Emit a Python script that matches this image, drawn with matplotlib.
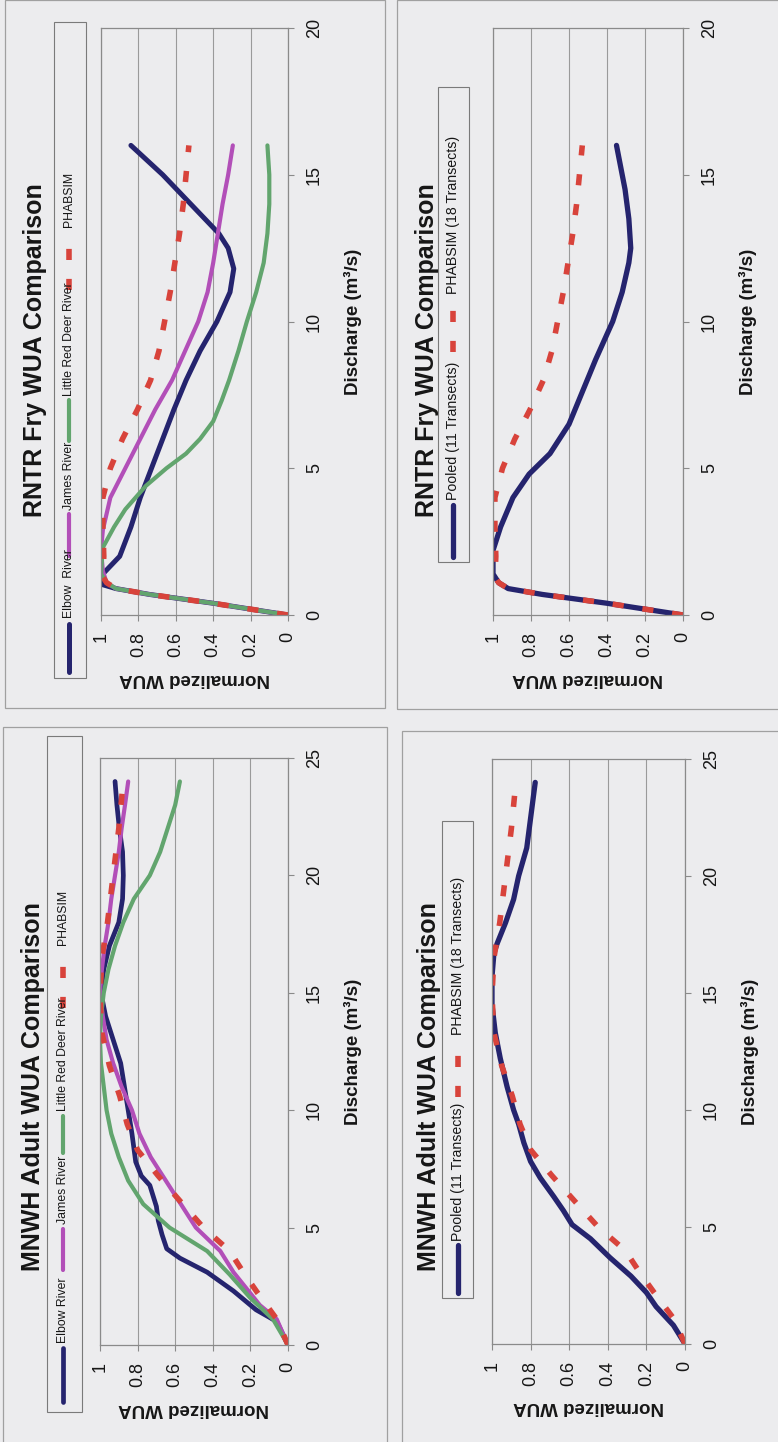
import matplotlib
matplotlib.use("Agg")
import matplotlib.pyplot as plt
from matplotlib.lines import Line2D
from matplotlib.patches import Rectangle

# ------------------------------------------------------------------ data
wua_ticks = [0, 0.2, 0.4, 0.6, 0.8, 1.0]
wua_ticklabels = ["0", "0.2", "0.4", "0.6", "0.8", "1"]
fry_q_ticks = [0, 5, 10, 15, 20]
adult_q_ticks = [0, 5, 10, 15, 20, 25]

fry_title = "RNTR Fry WUA Comparison"
adult_title = "MNWH Adult WUA Comparison"
x_label = "Discharge (m³/s)"
y_label = "Normalized WUA"

# RNTR fry
fry_elbow_q = [0, 0.4, 0.7, 0.9, 1.05, 1.4, 2.0, 3.0, 4.0, 5.0, 6.0, 7.0, 8.0, 9.0, 10.0, 11.0, 11.8, 12.5, 13.0, 14.0, 15.0, 16.0]
fry_elbow_w = [0, 0.40, 0.74, 0.92, 1.0, 0.99, 0.90, 0.84, 0.79, 0.73, 0.67, 0.61, 0.545, 0.47, 0.38, 0.31, 0.29, 0.32, 0.37, 0.52, 0.67, 0.84]
fry_james_q = [0, 0.4, 0.7, 0.9, 1.1, 1.5, 2.2, 2.9, 4.0, 5.0, 6.0, 7.0, 8.0, 9.0, 10.0, 11.0, 12.0, 13.0, 14.0, 15.0, 16.0]
fry_james_w = [0, 0.40, 0.74, 0.92, 0.97, 0.99, 1.0, 0.99, 0.95, 0.87, 0.79, 0.71, 0.62, 0.55, 0.48, 0.43, 0.40, 0.375, 0.35, 0.32, 0.295]
fry_lrd_q = [0, 0.4, 0.7, 0.9, 1.1, 1.4, 2.3, 3.0, 3.6, 4.4, 5.0, 5.5, 6.0, 6.6, 7.3, 8.0, 9.0, 10.0, 11.0, 12.0, 13.0, 14.0, 15.0, 16.0]
fry_lrd_w = [0, 0.40, 0.74, 0.92, 0.97, 1.0, 0.99, 0.93, 0.87, 0.76, 0.65, 0.545, 0.47, 0.40, 0.355, 0.315, 0.265, 0.22, 0.17, 0.13, 0.11, 0.10, 0.10, 0.11]
fry_phab_q = [0, 0.4, 0.7, 0.9, 1.1, 1.3, 2.0, 3.0, 4.0, 5.0, 6.0, 7.0, 8.0, 9.0, 10.0, 11.0, 12.0, 13.0, 14.0, 15.0, 16.0]
fry_phab_w = [0, 0.40, 0.74, 0.92, 0.97, 0.99, 0.985, 0.99, 0.99, 0.95, 0.885, 0.805, 0.735, 0.69, 0.66, 0.63, 0.605, 0.58, 0.56, 0.545, 0.53]
fry_pooled_q = [0, 0.4, 0.7, 0.9, 1.1, 1.4, 2.2, 3.0, 4.0, 4.8, 5.5, 6.5, 7.6, 8.7, 10.0, 11.0, 12.0, 12.5, 13.5, 14.5, 16.0]
fry_pooled_w = [0, 0.40, 0.74, 0.92, 0.97, 1.0, 1.0, 0.96, 0.895, 0.81, 0.70, 0.60, 0.53, 0.46, 0.37, 0.32, 0.285, 0.275, 0.285, 0.305, 0.35]

# MNWH adult
adult_elbow_q = [0, 1.0, 1.5, 2.3, 3.1, 3.7, 4.1, 4.7, 5.3, 5.9, 6.8, 7.2, 7.8, 9.0, 10.0, 11.0, 12.0, 13.0, 14.0, 15.0, 16.0, 17.0, 18.0, 19.0, 20.0, 21.0, 22.0, 23.0, 24.0]
adult_elbow_w = [0, 0.06, 0.17, 0.29, 0.43, 0.575, 0.645, 0.67, 0.69, 0.70, 0.735, 0.78, 0.81, 0.83, 0.85, 0.87, 0.89, 0.93, 0.97, 0.995, 0.98, 0.95, 0.90, 0.88, 0.876, 0.88, 0.897, 0.91, 0.92]
adult_james_q = [0, 1.1, 1.7, 3.1, 4.0, 5.0, 6.0, 7.0, 8.0, 9.0, 10.0, 11.0, 12.0, 13.0, 14.0, 15.0, 16.0, 17.0, 18.0, 19.0, 20.0, 21.0, 22.0, 23.0, 24.0]
adult_james_w = [0, 0.06, 0.15, 0.29, 0.36, 0.49, 0.57, 0.65, 0.73, 0.79, 0.83, 0.885, 0.93, 0.965, 0.985, 1.0, 0.99, 0.975, 0.955, 0.94, 0.92, 0.90, 0.885, 0.867, 0.85]
adult_lrd_q = [0, 1.1, 2.0, 3.0, 4.0, 5.0, 6.0, 7.0, 8.0, 9.0, 10.0, 11.0, 12.0, 13.0, 14.0, 15.0, 16.0, 17.0, 18.0, 19.0, 20.0, 21.0, 22.0, 23.0, 24.0]
adult_lrd_w = [0, 0.08, 0.20, 0.31, 0.43, 0.63, 0.77, 0.85, 0.90, 0.94, 0.965, 0.98, 0.995, 1.0, 0.995, 0.98, 0.955, 0.92, 0.876, 0.82, 0.735, 0.68, 0.64, 0.60, 0.575]
adult_phab_q = [0, 1.1, 2.2, 3.0, 4.0, 5.0, 6.0, 7.2, 8.3, 9.4, 10.6, 11.9, 13.3, 14.9, 16.5, 18.0, 20.0, 22.0, 23.7]
adult_phab_w = [0, 0.06, 0.16, 0.23, 0.31, 0.45, 0.56, 0.69, 0.80, 0.855, 0.895, 0.95, 0.99, 1.0, 0.99, 0.96, 0.93, 0.90, 0.88]
adult_pooled_q = [0, 0.8, 1.6, 2.2, 2.9, 3.7, 4.5, 5.1, 5.7, 6.3, 7.1, 7.8, 8.6, 9.4, 10.0, 11.0, 12.2, 13.3, 14.5, 15.7, 16.7, 17.1, 18.0, 19.0, 20.0, 21.2, 24.0]
adult_pooled_w = [0, 0.06, 0.15, 0.20, 0.28, 0.39, 0.49, 0.585, 0.63, 0.68, 0.75, 0.80, 0.835, 0.862, 0.888, 0.922, 0.957, 0.983, 1.0, 1.0, 0.99, 0.974, 0.93, 0.888, 0.862, 0.82, 0.776]

# ------------------------------------------------------------------ styles
NAVY = "#25246e"
MAGENTA = "#b24fb8"
GREEN = "#62a56e"
RED = "#d8433b"
BG = "#ececee"
GRID = "#9a9a9a"
FRAME = "#8a8a8a"
EDGE = "#a0a0a0"
TXT = "#161616"

FONT = ["Liberation Sans", "DejaVu Sans"]

W_PX, H_PX = 778, 1442
fig = plt.figure(figsize=(W_PX / 100, H_PX / 100), dpi=100, facecolor=BG)


def fx(x):
    return x / W_PX


def fy(y):
    return 1 - y / H_PX


solid = dict(linestyle="-", solid_capstyle="round", solid_joinstyle="round")
dashed = dict(linestyle=(0, (2.0, 3.4)), dash_capstyle="butt", lw=4.0, color=RED)

fry_multi = [
    ("Elbow  River", fry_elbow_q, fry_elbow_w, dict(color=NAVY, lw=3.6, **solid)),
    ("James River", fry_james_q, fry_james_w, dict(color=MAGENTA, lw=3.0, **solid)),
    ("Little Red Deer River", fry_lrd_q, fry_lrd_w, dict(color=GREEN, lw=3.0, **solid)),
    ("PHABSIM", fry_phab_q, fry_phab_w, dashed),
]
fry_pool = [
    ("Pooled (11 Transects)", fry_pooled_q, fry_pooled_w, dict(color=NAVY, lw=3.8, **solid)),
    ("PHABSIM (18 Transects)", fry_phab_q, fry_phab_w, dashed),
]
adult_multi = [
    ("Elbow River", adult_elbow_q, adult_elbow_w, dict(color=NAVY, lw=3.4, **solid)),
    ("James River", adult_james_q, adult_james_w, dict(color=MAGENTA, lw=3.0, **solid)),
    ("Little Red Deer River", adult_lrd_q, adult_lrd_w, dict(color=GREEN, lw=3.0, **solid)),
    ("PHABSIM", adult_phab_q, adult_phab_w, dashed),
]
adult_pool = [
    ("Pooled (11 Transects)", adult_pooled_q, adult_pooled_w, dict(color=NAVY, lw=3.8, **solid)),
    ("PHABSIM (18 Transects)", adult_phab_q, adult_phab_w, dashed),
]

panels = [
    dict(series=fry_multi, title=fry_title, qticks=fry_q_ticks,
         ax=(101, 28, 288, 615), title_xy=(35, 350), edge=(5, 0, 385, 708),
         leg_box=(54, 22, 86, 678), leg_x=69, leg_fs=8.8,
         leg=[(672, 624, 618), (556, 514, 510), (441, 400, 396), (290, 232, 227)]),
    dict(series=fry_pool, title=fry_title, qticks=fry_q_ticks,
         ax=(493, 28, 683, 615), title_xy=(427, 350), edge=(397, 0, 790, 709),
         leg_box=(438, 87, 469, 562), leg_x=453, leg_fs=10.2,
         leg=[(557, 505, 500), (352, 298, 294)]),
    dict(series=adult_multi, title=adult_title, qticks=adult_q_ticks,
         ax=(100, 758, 288, 1345), title_xy=(33, 1087), edge=(3, 727, 387, 1460),
         leg_box=(47, 736, 82, 1412), leg_x=63, leg_fs=8.8,
         leg=[(1402, 1348, 1343), (1270, 1229, 1224), (1153, 1116, 1111), (1008, 950, 945)]),
    dict(series=adult_pool, title=adult_title, qticks=adult_q_ticks,
         ax=(492, 759, 685, 1344), title_xy=(429, 1087), edge=(402, 731, 790, 1460),
         leg_box=(442, 821, 473, 1298), leg_x=458, leg_fs=10.2,
         leg=[(1293, 1245, 1241), (1097, 1038, 1035)]),
]

for p in panels:
    # outer panel frame
    ex0, ey0, ex1, ey1 = p["edge"]
    fig.add_artist(Rectangle((fx(ex0), fy(ey1)), fx(ex1 - ex0), (ey1 - ey0) / H_PX,
                             transform=fig.transFigure, fill=False, ec=EDGE, lw=0.9))

    l, t, r, b = p["ax"]
    ax = fig.add_axes([fx(l), fy(b), fx(r - l), (b - t) / H_PX])
    ax.set_facecolor(BG)
    qmax = p["qticks"][-1]
    for name, q, w, st in p["series"]:
        ax.plot(w, q, label=name, **st)
    ax.set_xlim(1, 0)
    ax.set_ylim(0, qmax)
    ax.set_xticks(wua_ticks)
    ax.set_xticklabels(wua_ticklabels)
    ax.set_yticks(p["qticks"])
    ax.yaxis.tick_right()
    ax.grid(axis="x", color=GRID, lw=0.8)
    ax.grid(axis="y", visible=False)
    ax.set_axisbelow(True)
    for s in ax.spines.values():
        s.set_color(FRAME)
        s.set_linewidth(0.9)
    ax.tick_params(axis="x", direction="out", length=4, width=0.8, color=FRAME,
                   pad=8, labelrotation=90, labelsize=13, labelcolor=TXT)
    ax.tick_params(axis="y", direction="out", length=4, width=0.8, color=FRAME,
                   pad=9, labelrotation=90, labelsize=13, labelcolor=TXT)
    for lab in ax.get_xticklabels() + ax.get_yticklabels():
        lab.set_family(FONT)
    for lab in ax.get_yticklabels():
        lab.set_va("center")

    axw, axh = r - l, b - t
    ax.set_xlabel(y_label, rotation=180, fontsize=13.5, fontweight="bold",
                  family=FONT, color=TXT)
    ax.xaxis.set_label_coords(0.5, -(63 / axh))
    ax.xaxis.label.set_va("center")
    ax.xaxis.label.set_ha("center")
    ax.yaxis.set_label_position("right")
    ax.set_ylabel(x_label, rotation=90, fontsize=13.5, fontweight="bold",
                  family=FONT, color=TXT)
    ax.yaxis.set_label_coords(1 + 65 / axw, 0.5)
    ax.yaxis.label.set_rotation_mode("default")
    ax.yaxis.label.set_va("center")
    ax.yaxis.label.set_ha("center")

    # title
    tx, ty = p["title_xy"]
    fig.text(fx(tx), fy(ty), p["title"], rotation=90, ha="center", va="center",
             fontsize=18, fontweight="bold", family=FONT, color=TXT)

    # legend (rotated, built by hand)
    bx0, by0, bx1, by1 = p["leg_box"]
    fig.add_artist(Rectangle((fx(bx0), fy(by1)), fx(bx1 - bx0), (by1 - by0) / H_PX,
                             transform=fig.transFigure, fill=False, ec="#7a7a7a", lw=0.8))
    lx = p["leg_x"]
    for (name, q, w, st), (y_a, y_b, y_t) in zip(p["series"], p["leg"]):
        fig.add_artist(Line2D([fx(lx), fx(lx)], [fy(y_a), fy(y_b)],
                              transform=fig.transFigure, **st))
        fig.text(fx(lx), fy(y_t), name, rotation=90, ha="center", va="bottom",
                 fontsize=p["leg_fs"], family=FONT, color=TXT)

fig.savefig("out.png", dpi=100, facecolor=BG)
